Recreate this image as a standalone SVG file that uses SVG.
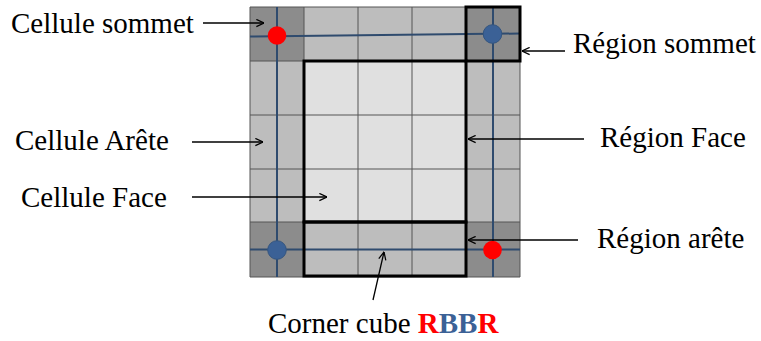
<svg xmlns="http://www.w3.org/2000/svg" width="761" height="341" viewBox="0 0 761 341">
<style>
text{font-family:"Liberation Serif","Times New Roman",serif;font-size:29px;fill:#000}
.corner{fill:#8c8c8c}
.edge{fill:#bdbdbd}
.face{fill:#e0e0e0}
.grid{stroke:#555;stroke-width:1;fill:none}
.blue{stroke:#2f4b6e;stroke-width:2;fill:none}
.thick{stroke:#000;stroke-width:3;fill:none}
.conn{stroke:#000;stroke-width:1.3;fill:none}
</style>
<defs>
<marker id="ah" viewBox="0 0 10 10" refX="9.5" refY="5" markerWidth="9" markerHeight="9" markerUnits="userSpaceOnUse" orient="auto">
<path d="M1,1 L9.5,5 L1,9" fill="none" stroke="#000" stroke-width="1.4"/>
</marker>
</defs>
<rect width="761" height="341" fill="#fff"/>
<g id="grid">
<rect class="edge" x="250" y="7" width="270" height="270"/>
<rect class="face" x="304" y="61" width="162" height="161"/>
<rect class="corner" x="250" y="7" width="54" height="54"/>
<rect class="corner" x="466" y="7" width="54" height="54"/>
<rect class="corner" x="250" y="222" width="54" height="55"/>
<rect class="corner" x="466" y="222" width="54" height="55"/>
<path class="grid" d="M250,7H520V277H250Z M304,7V277 M358,7V277 M412,7V277 M466,7V277 M250,61H520 M250,115H520 M250,169H520 M250,222H520"/>
</g>
<g id="axes">
<path class="blue" d="M250,36.5L520,33.5 M250,249.5H520 M277,7V277 M493,7V277"/>
</g>
<g id="regions">
<rect id="region-face" class="thick" x="304" y="61" width="162" height="161"/>
<rect id="region-arete" class="thick" x="304" y="222" width="162" height="54"/>
<rect id="region-sommet" class="thick" x="466" y="7" width="54" height="54"/>
</g>
<g id="points">
<circle cx="277" cy="35.5" r="9.3" fill="#ff0000"/>
<circle cx="492.5" cy="34" r="9.3" fill="#3b6196" stroke="#34557f" stroke-width="1"/>
<circle cx="277" cy="250" r="9.3" fill="#3b6196" stroke="#34557f" stroke-width="1"/>
<circle cx="492.5" cy="250" r="9.3" fill="#ff0000"/>
</g>
<g id="connectors">
<line class="conn" x1="203" y1="23" x2="264" y2="23" marker-end="url(#ah)"/>
<line class="conn" x1="192" y1="142" x2="263" y2="142" marker-end="url(#ah)"/>
<line class="conn" x1="192" y1="197" x2="327" y2="197" marker-end="url(#ah)"/>
<line class="conn" x1="565" y1="51" x2="522" y2="51" marker-end="url(#ah)"/>
<line class="conn" x1="584" y1="139" x2="468" y2="139" marker-end="url(#ah)"/>
<line class="conn" x1="578" y1="240" x2="468" y2="240" marker-end="url(#ah)"/>
<line class="conn" x1="373" y1="300" x2="384" y2="252" marker-end="url(#ah)"/>
</g>
<g id="label-cellule-sommet"><text x="11" y="33">Cellule sommet</text></g>
<g id="label-cellule-arete"><text x="15" y="150">Cellule Arête</text></g>
<g id="label-cellule-face"><text x="21" y="207">Cellule Face</text></g>
<g id="label-region-sommet"><text x="573" y="53">Région sommet</text></g>
<g id="label-region-face"><text x="600" y="147">Région Face</text></g>
<g id="label-region-arete"><text x="597" y="248">Région arête</text></g>
<g id="label-corner-cube"><text x="268" y="333">Corner cube <tspan font-weight="bold" fill="#ff0000">R</tspan><tspan font-weight="bold" fill="#3b6196">BB</tspan><tspan font-weight="bold" fill="#ff0000">R</tspan></text></g>
</svg>
